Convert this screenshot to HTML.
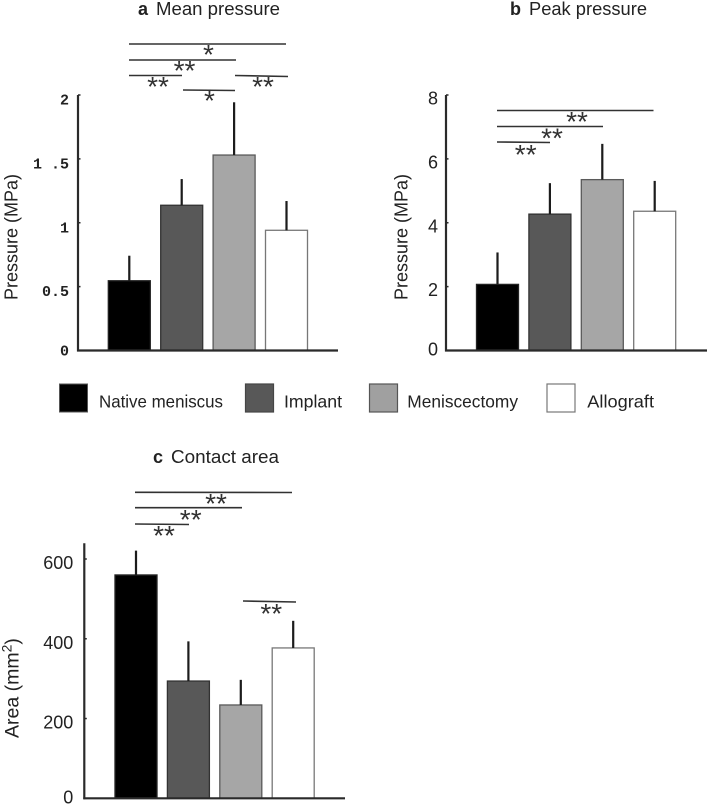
<!DOCTYPE html>
<html>
<head>
<meta charset="utf-8">
<style>
html,body{margin:0;padding:0;background:#fff;width:708px;height:804px;overflow:hidden}
svg{display:block;font-family:"Liberation Sans",sans-serif}
text{fill:#222}
.star{font-size:28px;fill:#333;text-anchor:middle;letter-spacing:0}
.br{stroke:#333;stroke-width:1.6}
</style>
</head>
<body>
<svg id="figure" width="708" height="804" viewBox="0 0 708 804" xmlns="http://www.w3.org/2000/svg">
<defs><filter id="soft" x="-2%" y="-2%" width="104%" height="104%"><feGaussianBlur stdDeviation="0.35"/></filter></defs>
<g id="root" filter="url(#soft)">
  <g><text x="138" y="15" font-size="18" font-weight="bold">a</text><text x="156" y="15" font-size="18" textLength="124" lengthAdjust="spacingAndGlyphs">Mean pressure</text></g>
  <g><text x="510" y="15" font-size="18" font-weight="bold">b</text><text x="529" y="15" font-size="18" textLength="118" lengthAdjust="spacingAndGlyphs">Peak pressure</text></g>
  <g><text x="153" y="463" font-size="18" font-weight="bold">c</text><text x="171" y="463" font-size="18" textLength="108" lengthAdjust="spacingAndGlyphs">Contact area</text></g>

  <text transform="translate(17.5,300) rotate(-90)" font-size="18" textLength="126" lengthAdjust="spacingAndGlyphs">Pressure (MPa)</text>
  <text transform="translate(407.5,300) rotate(-90)" font-size="18" textLength="126" lengthAdjust="spacingAndGlyphs">Pressure (MPa)</text>
  <text transform="translate(18.5,738) rotate(-90)" font-size="19.5" >Area (mm<tspan dy="-7" font-size="14">2</tspan><tspan dy="7">)</tspan></text>

  <g>
    <line class="br" x1="129" y1="44" x2="286" y2="44"/><line class="br" x1="129" y1="60" x2="236" y2="60"/><line class="br" x1="129" y1="75.5" x2="182" y2="75.5"/><line class="br" x1="235" y1="75.5" x2="288" y2="76.5"/><line class="br" x1="183" y1="90" x2="235" y2="90.5"/>
    <text class="star" x="208.5" y="64">*</text><text class="star" x="184.5" y="80">**</text><text class="star" x="158" y="96">**</text><text class="star" x="263" y="96">**</text><text class="star" x="209.5" y="110">*</text>
  </g>
  <g>
    <line class="br" x1="497" y1="110.5" x2="653.5" y2="110.5"/><line class="br" x1="497" y1="126.5" x2="603" y2="126.5"/><line class="br" x1="497" y1="142" x2="550" y2="142.5"/>
    <text class="star" x="577" y="131">**</text><text class="star" x="552" y="147.5">**</text><text class="star" x="525.7" y="164">**</text>
  </g>
  <g>
    <line class="br" x1="135" y1="492.3" x2="292" y2="492.5"/><line class="br" x1="135" y1="507.7" x2="242" y2="507.7"/><line class="br" x1="135" y1="524" x2="189" y2="524.5"/><line class="br" x1="243" y1="601" x2="296" y2="602"/>
    <text class="star" x="216" y="513">**</text><text class="star" x="190.7" y="529">**</text><text class="star" x="164" y="545">**</text><text class="star" x="271.3" y="623">**</text>
  </g>

  <g>
    <g><rect x="59.5" y="384" width="28" height="28" fill="#000" stroke="#555" stroke-width="1"/><text x="99" y="407.7" font-size="17.5" textLength="124" lengthAdjust="spacingAndGlyphs">Native meniscus</text></g>
    <g><rect x="245.5" y="384" width="28" height="28" fill="#595959" stroke="#444" stroke-width="1.2"/><text x="284" y="407.7" font-size="17.5" textLength="58" lengthAdjust="spacingAndGlyphs">Implant</text></g>
    <g><rect x="369.5" y="384" width="28" height="28" fill="#a0a0a0" stroke="#555" stroke-width="1.2"/><text x="407.3" y="407.7" font-size="17.5" textLength="110.7" lengthAdjust="spacingAndGlyphs">Meniscectomy</text></g>
    <g><rect x="547" y="384" width="28" height="28" fill="#fff" stroke="#777" stroke-width="1.2"/><text x="587.3" y="407.7" font-size="17.5" textLength="66.7" lengthAdjust="spacingAndGlyphs">Allograft</text></g>
  </g>
  <g id="charts"></g>
</g>
</svg>
<script>
const categories = ["Native meniscus", "Implant", "Meniscectomy", "Allograft"];

const meanPressureValues = [0.546, 1.137, 1.53, 0.941];
const meanPressureErrorTops = [0.742, 1.342, 1.943, 1.17];
const meanPressureTicks = [0, 0.5, 1, 1.5, 2];
const meanPressureTickLabels = ["0", "0.5", "1", "1 .5", "2"];

const peakPressureValues = [2.07, 4.27, 5.35, 4.36];
const peakPressureErrorTops = [3.07, 5.24, 6.47, 5.31];
const peakPressureTicks = [0, 2, 4, 6, 8];
const peakPressureTickLabels = ["0", "2", "4", "6", "8"];

const contactAreaValues = [560, 294, 234, 377];
const contactAreaErrorTops = [621, 393.5, 297, 445];
const contactAreaTicks = [0, 200, 400, 600];
const contactAreaTickLabels = ["0", "200", "400", "600"];

const barFills = ["#000000", "#595959", "#a6a6a6", "#ffffff"];
const barStrokes = ["#222222", "#333333", "#5a5a5a", "#777777"];

const NS = "http://www.w3.org/2000/svg";
const charts = document.getElementById("charts");

function make(tag, attrs, parent) {
  const el = document.createElementNS(NS, tag);
  for (const k in attrs) el.setAttribute(k, attrs[k]);
  parent.appendChild(el);
  return el;
}

function drawPanel(p, values, errorTops, ticks, tickLabels) {
  const g = make("g", {}, charts);
  
  

  const y = v => p.y0 - (v / p.yMax) * (p.y0 - p.yTop);
  const x = i => p.x1 + i * p.step;
  const barW = 42;

  values.forEach((v, i) => {
    const top = y(v);
    const bar = make("rect", {
      x: x(i) - barW / 2, y: top, width: barW, height: p.y0 - top,
      fill: barFills[i], stroke: barStrokes[i], "stroke-width": 1.3
    }, g);
    
    

    const err = make("line", {
      x1: x(i), x2: x(i), y1: top, y2: y(errorTops[i]),
      stroke: "#1a1a1a", "stroke-width": 2.2
    }, g);
    
    
  });

  const yAxis = make("line", { x1: p.axisX, x2: p.axisX, y1: p.axisTop, y2: p.y0 + 1, stroke: "#2a2a2a", "stroke-width": 2.2 }, g);
  
  

  const xAxis = make("line", { x1: p.axisX - 1, x2: p.axisEnd, y1: p.y0, y2: p.y0, stroke: "#2a2a2a", "stroke-width": 2.2 }, g);
  
  

  ticks.forEach((t, i) => {
    const mark = make("line", { x1: p.axisX, x2: p.axisX + 2.5, y1: y(t), y2: y(t), stroke: "#2a2a2a", "stroke-width": 1.5 }, g);
    
    

    const label = make("text", {
      x: p.axisX - p.labelGap,
      y: y(t) + (t === 0 ? 5 : p.labelDy),
      "font-size": p.fontSize,
      "font-family": p.fontFamily,
      "font-weight": p.fontWeight,
      "text-anchor": "end"
    }, g);
    label.textContent = tickLabels[i];
    
    
  });
}

drawPanel({ name: "mean-pressure", x1: 129.3, step: 52.4, y0: 350.5, yTop: 95, yMax: 2, axisX: 78, axisTop: 95, axisEnd: 338, labelGap: 9, labelDy: 9.5, fontSize: 15, fontWeight: "bold", fontFamily: '"Liberation Mono", monospace' },
  meanPressureValues, meanPressureErrorTops, meanPressureTicks, meanPressureTickLabels);

drawPanel({ name: "peak-pressure", x1: 497.5, step: 52.4, y0: 350.5, yTop: 95, yMax: 8, axisX: 446, axisTop: 95, axisEnd: 707, labelGap: 8, labelDy: 9.5, fontSize: 18, fontWeight: "normal", fontFamily: '"Liberation Sans", sans-serif' },
  peakPressureValues, peakPressureErrorTops, peakPressureTicks, peakPressureTickLabels);

drawPanel({ name: "contact-area", x1: 136, step: 52.4, y0: 798.3, yTop: 559, yMax: 600, axisX: 84.3, axisTop: 543.3, axisEnd: 345, labelGap: 11, labelDy: 10, fontSize: 18, fontWeight: "normal", fontFamily: '"Liberation Sans", sans-serif' },
  contactAreaValues, contactAreaErrorTops, contactAreaTicks, contactAreaTickLabels);
</script>
</body>
</html>
